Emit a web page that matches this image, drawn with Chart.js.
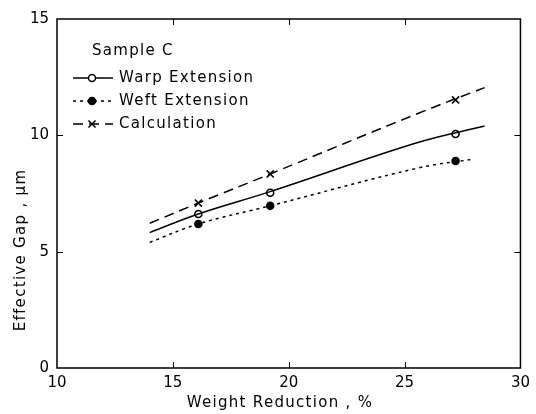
<!DOCTYPE html>
<html>
<head>
<meta charset="utf-8">
<script src="https://cdn.jsdelivr.net/npm/chart.js@4.4.0/dist/chart.umd.min.js"></script>
<style>
html, body { margin: 0; padding: 0; background: #fff; }
#wrap { width: 536px; height: 414px; position: relative; }
</style>
</head>
<body>
<div id="wrap"><canvas id="gapChart"></canvas></div>
<script>
// measured samples (weight reduction %)
const sampleX = [16.1, 19.2, 27.2];
const warpPoints = [6.62, 7.53, 10.06];
const weftPoints = [6.19, 6.97, 8.9];
const calcPoints = [7.09, 8.34, 11.52];

// fitted curves
const warpCurveX = [14, 16.1, 19.2, 25.6, 28.45];
const warpCurveY = [5.82, 6.62, 7.58, 9.7, 10.4];
const weftCurveX = [14, 16.1, 19.2, 25.6, 28.0];
const weftCurveY = [5.4, 6.19, 6.97, 8.6, 8.98];
const calcCurveX = [14, 16.1, 19.2, 25.6, 28.45];
const calcCurveY = [6.22, 7.09, 8.34, 10.95, 12.05];

const xTicks = [10, 15, 20, 25, 30];
const yTicks = [0, 5, 10, 15];
const legendTitle = 'Sample C';
const seriesNames = ['Warp Extension', 'Weft Extension', 'Calculation'];
const xTitle = 'Weight Reduction , %';
const yTitle = 'Effective Gap , \u03bcm';

const FONT = '15px "DejaVu Sans"';
const pairs = (xs, ys) => xs.map((x, i) => ({ x: x, y: ys[i] }));

const styles = [
    { dash: [], pointStyle: 'circle', fill: '#fff', r: 3.5 },
    { dash: [3, 4], pointStyle: 'circle', fill: '#000', r: 3.5 },
    { dash: [10, 6], pointStyle: 'crossRot', fill: '#000', r: 5 }
];

// frame, inward ticks, axis titles and the boxed-in legend
const framePlugin = {
    id: 'frame',
    afterDraw(chart) {
        const ctx = chart.ctx, a = chart.chartArea;
        const sx = chart.scales.x, sy = chart.scales.y;
        ctx.save();
        ctx.strokeStyle = '#000';
        ctx.lineWidth = 1.5;
        ctx.strokeRect(a.left, a.top, a.right - a.left, a.bottom - a.top);

        ctx.lineWidth = 1;
        ctx.beginPath();
        xTicks.slice(1, -1).forEach(v => {
            const px = Math.round(sx.getPixelForValue(v)) + 0.5;
            ctx.moveTo(px, a.bottom); ctx.lineTo(px, a.bottom - 6);
            ctx.moveTo(px, a.top); ctx.lineTo(px, a.top + 6);
        });
        yTicks.slice(1, -1).forEach(v => {
            const py = Math.round(sy.getPixelForValue(v)) + 0.5;
            ctx.moveTo(a.left, py); ctx.lineTo(a.left + 6, py);
            ctx.moveTo(a.right, py); ctx.lineTo(a.right - 6, py);
        });
        ctx.stroke();

        ctx.fillStyle = '#000';
        ctx.font = FONT;
        ctx.letterSpacing = '1.3px';
        ctx.textAlign = 'center';
        ctx.textBaseline = 'middle';
        ctx.fillText(xTitle, 280, 403);
        ctx.save();
        ctx.translate(21, 250);
        ctx.rotate(-Math.PI / 2);
        ctx.fillText(yTitle, 0, 0);
        ctx.restore();

        // legend
        ctx.textAlign = 'left';
        ctx.fillText(legendTitle, 92, 51);
        const rowY = [78, 101, 124];
        seriesNames.forEach((name, i) => {
            const y = rowY[i], st = styles[i];
            ctx.lineWidth = 1.5;
            ctx.setLineDash(st.dash);
            ctx.beginPath();
            ctx.moveTo(73, y); ctx.lineTo(113, y);
            ctx.stroke();
            ctx.setLineDash([]);
            ctx.fillStyle = st.fill;
            Chart.helpers.drawPoint(ctx, { pointStyle: st.pointStyle, radius: st.r, borderWidth: 1.5, rotation: 0 }, 92, y);
            ctx.fillStyle = '#000';
            ctx.fillText(name, 119, y);
        });
        ctx.restore();
    }
};

const curveDs = (xs, ys, st) => ({
    data: pairs(xs, ys),
    showLine: true,
    borderColor: '#000',
    borderWidth: 1.5,
    borderDash: st.dash,
    pointRadius: 0,
    tension: 0.4
});
const markDs = (ys, st) => ({
    data: pairs(sampleX, ys),
    showLine: false,
    pointStyle: st.pointStyle,
    pointRadius: st.r,
    pointBorderWidth: 1.6,
    pointBorderColor: '#000',
    pointBackgroundColor: st.fill
});

new Chart(document.getElementById('gapChart'), {
    type: 'scatter',
    data: {
        datasets: [
            curveDs(warpCurveX, warpCurveY, styles[0]),
            curveDs(weftCurveX, weftCurveY, styles[1]),
            curveDs(calcCurveX, calcCurveY, styles[2]),
            markDs(warpPoints, styles[0]),
            markDs(weftPoints, styles[1]),
            markDs(calcPoints, styles[2])
        ]
    },
    options: {
        responsive: true,
        maintainAspectRatio: false,
        animation: false,
        layout: { padding: { top: 19, right: 15, left: 0, bottom: 0 } },
        plugins: {
            legend: { display: false },
            tooltip: { enabled: false }
        },
        scales: {
            x: {
                type: 'linear',
                min: 10, max: 30,
                afterFit: s => { s.height = 46; },
                grid: { display: false, drawTicks: false },
                border: { display: false },
                ticks: { stepSize: 5, padding: 6, color: '#000', font: { family: 'DejaVu Sans', size: 15 } }
            },
            y: {
                min: 0, max: 15,
                afterFit: s => { s.width = 57; },
                grid: { display: false, drawTicks: false },
                border: { display: false },
                ticks: { stepSize: 5, padding: 8, color: '#000', font: { family: 'DejaVu Sans', size: 15 } }
            }
        }
    },
    plugins: [framePlugin]
});
</script>
</body>
</html>
